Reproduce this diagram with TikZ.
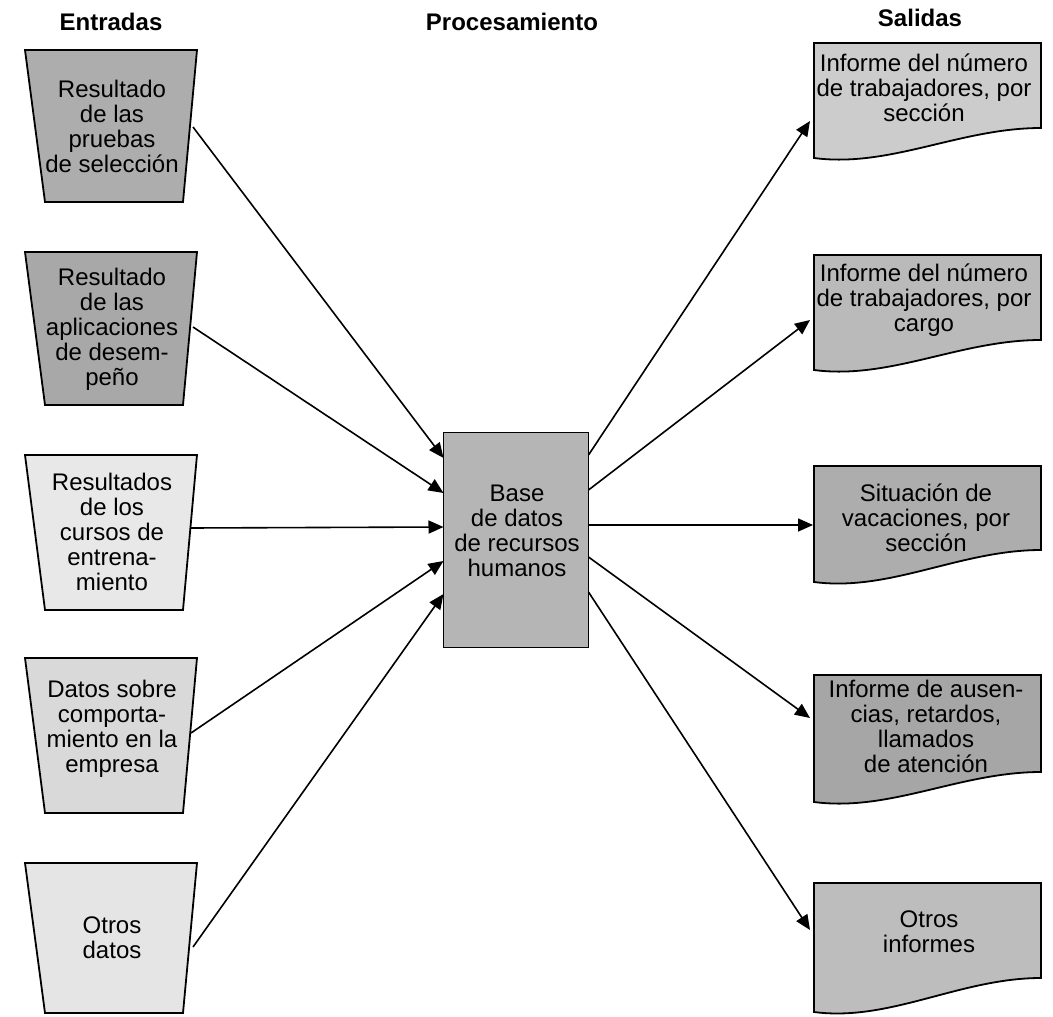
\documentclass[tikz,border=0pt]{standalone}
\usepackage{fontspec}
\setmainfont{Liberation Sans}
\usetikzlibrary{arrows.meta}
\tikzset{
  shp/.style={draw=black, line width=1.8pt, line join=miter},
  txt/.style={align=center, inner sep=0pt, font=\fontsize{24}{25}\selectfont},
  hdr/.style={inner sep=0pt, font=\fontsize{24}{25}\selectfont\bfseries},
  arr/.style={line width=1.6pt, -{Triangle[length=15pt,width=13pt]}},
}
\definecolor{gIa}{gray}{0.68}
\definecolor{gIb}{gray}{0.66}
\definecolor{gIc}{gray}{0.91}
\definecolor{gId}{gray}{0.85}
\definecolor{gIe}{gray}{0.90}
\definecolor{gC}{gray}{0.71}
\definecolor{gOa}{gray}{0.80}
\definecolor{gOb}{gray}{0.73}
\definecolor{gOc}{gray}{0.68}
\definecolor{gOd}{gray}{0.65}
\definecolor{gOe}{gray}{0.74}
% trapezium input: #1 top y, #2 bottom y, #3 fill
\newcommand\myinshape[3]{\filldraw[shp, fill=#3] (25,#1) -- (197,#1) -- (183,#2) -- (45,#2) -- cycle;}
% document output: #1 top, #2 right bottom, #3 left bottom, #4 fill
\newcommand\mydocshape[4]{\filldraw[shp, fill=#4] (814,#1) -- (1041,#1) -- (1041,#2)
  .. controls (960,#2) and (890,#3+10) .. (814,#3) -- cycle;}
\begin{document}
\begin{tikzpicture}[x=1pt, y=-1pt]
\useasboundingbox (0,0) rectangle (1053,1017);
% headers
\node[hdr] (hE) at (111,22) {Entradas};
\node[hdr] (hP) at (512,22) {Procesamiento};
\node[hdr] (hS) at (920,18) {Salidas};
% inputs
\myinshape{50}{202}{gIa}
\node[txt] (in1) at (112,126) {Resultado\\de las\\pruebas\\de selección};
\myinshape{252}{405}{gIb}
\node[txt] (in2) at (112,329) {Resultado\\de las\\aplicaciones\\de desem-\\peño};
\myinshape{455}{610}{gIc}
\node[txt] (in3) at (112,532) {Resultados\\de los\\cursos de\\entrena-\\miento};
\myinshape{658}{813}{gId}
\node[txt] (in4) at (112,729) {Datos sobre\\comporta-\\miento en la\\empresa};
\myinshape{863}{1013}{gIe}
\node[txt] (in5) at (112,938) {Otros\\datos};
% center
\node[shp, fill=gC, minimum width=145pt, minimum height=215pt, inner sep=0pt] (cb) at (516,540) {};
\node[txt] (cbt) at (517,531) {Base\\de datos\\de recursos\\humanos};
% outputs
\mydocshape{43}{128}{158}{gOa}
\node[txt] (out1) at (924,88) {Informe del número\\de trabajadores, por\\sección};
\mydocshape{255}{340}{370}{gOb}
\node[txt] (out2) at (924,300) {Informe del número\\de trabajadores, por\\cargo};
\mydocshape{466}{550}{582}{gOc}
\node[txt] (out3) at (926,518) {Situación de\\vacaciones, por\\sección};
\mydocshape{675}{772}{802}{gOd}
\node[txt] (out4) at (926,726) {Informe de ausen-\\cias, retardos,\\llamados\\de atención};
\mydocshape{883}{978}{1012}{gOe}
\node[txt] (out5) at (929,932) {Otros\\informes};
% connector end points
\coordinate (i1) at (193,127);
\coordinate (i2) at (193,327);
\coordinate (i3) at (190,528);
\coordinate (i4) at (191,733);
\coordinate (i5) at (193,947);
\coordinate (c1) at (443.5,458);
\coordinate (c2) at (443.5,493);
\coordinate (c3) at (443.5,527);
\coordinate (c4) at (443.5,561);
\coordinate (c5) at (443.5,594);
\coordinate (d1) at (588.5,455);
\coordinate (d2) at (588.5,490);
\coordinate (d3) at (588.5,525);
\coordinate (d4) at (588.5,557);
\coordinate (d5) at (588.5,592);
\coordinate (o1) at (810,121);
\coordinate (o2) at (810,320);
\coordinate (o3) at (813,525);
\coordinate (o4) at (810,718);
\coordinate (o5) at (810,930);
\foreach \k in {1,...,5} {
  \draw[arr] (i\k) -- (c\k);
  \draw[arr] (d\k) -- (o\k);
}
\end{tikzpicture}
\end{document}
